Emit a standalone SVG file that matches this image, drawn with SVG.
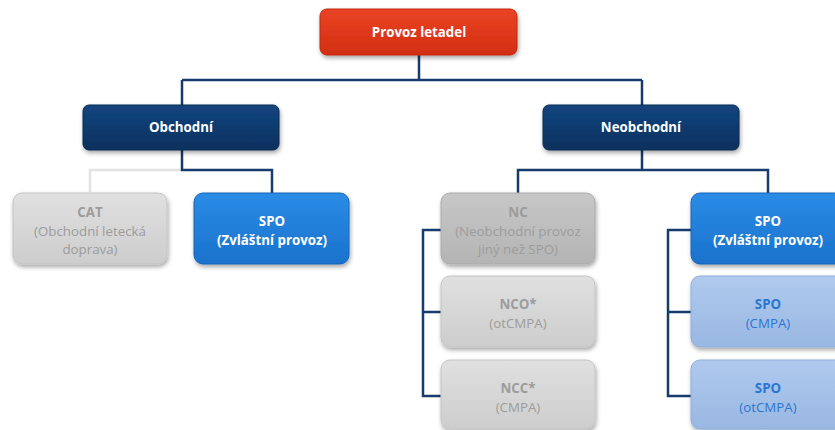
<svg xmlns="http://www.w3.org/2000/svg" width="835" height="430" viewBox="0 0 835 430">
<defs>
<linearGradient id="gRed" x1="0" y1="0" x2="0" y2="1"><stop offset="0" stop-color="#EA4324"/><stop offset="1" stop-color="#D22E12"/></linearGradient>
<linearGradient id="gNavy" x1="0" y1="0" x2="0" y2="1"><stop offset="0" stop-color="#13457F"/><stop offset="1" stop-color="#0B305E"/></linearGradient>
<linearGradient id="gBlue" x1="0" y1="0" x2="0" y2="1"><stop offset="0" stop-color="#2A8CE6"/><stop offset="1" stop-color="#1A72CC"/></linearGradient>
<linearGradient id="gGray" x1="0" y1="0" x2="0" y2="1"><stop offset="0" stop-color="#E0E0E0"/><stop offset="1" stop-color="#CDCDCD"/></linearGradient>
<linearGradient id="gGray2" x1="0" y1="0" x2="0" y2="1"><stop offset="0" stop-color="#C7C7C7"/><stop offset="1" stop-color="#B4B4B4"/></linearGradient>
<linearGradient id="gLBlue" x1="0" y1="0" x2="0" y2="1"><stop offset="0" stop-color="#B0CAEE"/><stop offset="1" stop-color="#98B7E2"/></linearGradient>
<filter id="sh" x="-10%" y="-10%" width="125%" height="140%"><feDropShadow dx="1" dy="2.5" stdDeviation="2" flood-color="#000" flood-opacity="0.35"/></filter>
</defs>
<style>
.box{filter:url(#sh);stroke-width:1}
.t{font-family:"Open Sans","Noto Sans","Liberation Sans",sans-serif;font-size:13.3px;text-anchor:middle}
.b{font-weight:bold}
.w{fill:#FFFFFF}
.gt{fill:#9C9C9C}
.bt{fill:#2A76D0}
.c{fill:none;stroke:#173B6C;stroke-width:2.5}
.cg{fill:none;stroke:#E2E2E2;stroke-width:2.5}
</style>
<g id="connectors">
<path class="c" d="M419 55 V80 M182 80 H642 M182 80 V105 M642 80 V105"/>
<path class="cg" d="M90 192 V170 H182"/>
<path class="c" d="M182 150 V170 H272 V193"/>
<path class="c" d="M642 150 V170 M518 193 V170 H768 V193"/>
<path class="c" d="M441 230 H423 V396 H441 M423 312 H441"/>
<path class="c" d="M691 230 H668 V396 H691 M668 312 H691"/>
</g>
<g id="root">
<rect class="box" x="320" y="9" width="197" height="46" rx="7" fill="url(#gRed)" stroke="#C0290F"/>
<text class="t b w" x="419" y="37" font-size="14.5">Provoz letadel</text>
</g>
<g id="obchodni">
<rect class="box" x="83" y="105" width="196" height="45" rx="6" fill="url(#gNavy)" stroke="#0A2A52"/>
<text class="t b w" x="181" y="132">Obchodní</text>
</g>
<g id="neobchodni">
<rect class="box" x="543" y="105" width="196" height="45" rx="6" fill="url(#gNavy)" stroke="#0A2A52"/>
<text class="t b w" x="641" y="132">Neobchodní</text>
</g>
<g id="cat">
<rect class="box" x="13" y="193" width="154" height="71" rx="9" fill="url(#gGray)" stroke="#C4C4C4"/>
<text class="t b gt" x="90" y="217">CAT</text>
<text class="t gt" x="90" y="236">(Obchodní letecká</text>
<text class="t gt" x="90" y="254">doprava)</text>
</g>
<g id="spo1">
<rect class="box" x="194" y="193" width="155" height="71" rx="9" fill="url(#gBlue)" stroke="#1766B8"/>
<text class="t b w" x="272" y="226">SPO</text>
<text class="t b w" x="272" y="245">(Zvláštní provoz)</text>
</g>
<g id="nc">
<rect class="box" x="441" y="193" width="154" height="71" rx="9" fill="url(#gGray2)" stroke="#AAAAAA"/>
<text class="t b gt" x="518" y="217">NC</text>
<text class="t gt" x="518" y="236">(Neobchodní provoz</text>
<text class="t gt" x="518" y="254">jiný než SPO)</text>
</g>
<g id="nco">
<rect class="box" x="441" y="276" width="154" height="71" rx="9" fill="url(#gGray)" stroke="#C4C4C4"/>
<text class="t b gt" x="518" y="309">NCO*</text>
<text class="t gt" x="518" y="328">(otCMPA)</text>
</g>
<g id="ncc">
<rect class="box" x="441" y="360" width="154" height="69" rx="9" fill="url(#gGray)" stroke="#C4C4C4"/>
<text class="t b gt" x="518" y="393">NCC*</text>
<text class="t gt" x="518" y="412">(CMPA)</text>
</g>
<g id="spo2">
<rect class="box" x="691" y="193" width="154" height="71" rx="9" fill="url(#gBlue)" stroke="#1766B8"/>
<text class="t b w" x="768" y="226">SPO</text>
<text class="t b w" x="768" y="245">(Zvláštní provoz)</text>
</g>
<g id="spo-cmpa">
<rect class="box" x="691" y="276" width="154" height="71" rx="9" fill="url(#gLBlue)" stroke="#8FAEDA"/>
<text class="t b bt" x="768" y="309">SPO</text>
<text class="t bt" x="768" y="328">(CMPA)</text>
</g>
<g id="spo-otcmpa">
<rect class="box" x="691" y="360" width="154" height="69" rx="9" fill="url(#gLBlue)" stroke="#8FAEDA"/>
<text class="t b bt" x="768" y="393">SPO</text>
<text class="t bt" x="768" y="412">(otCMPA)</text>
</g>
</svg>
